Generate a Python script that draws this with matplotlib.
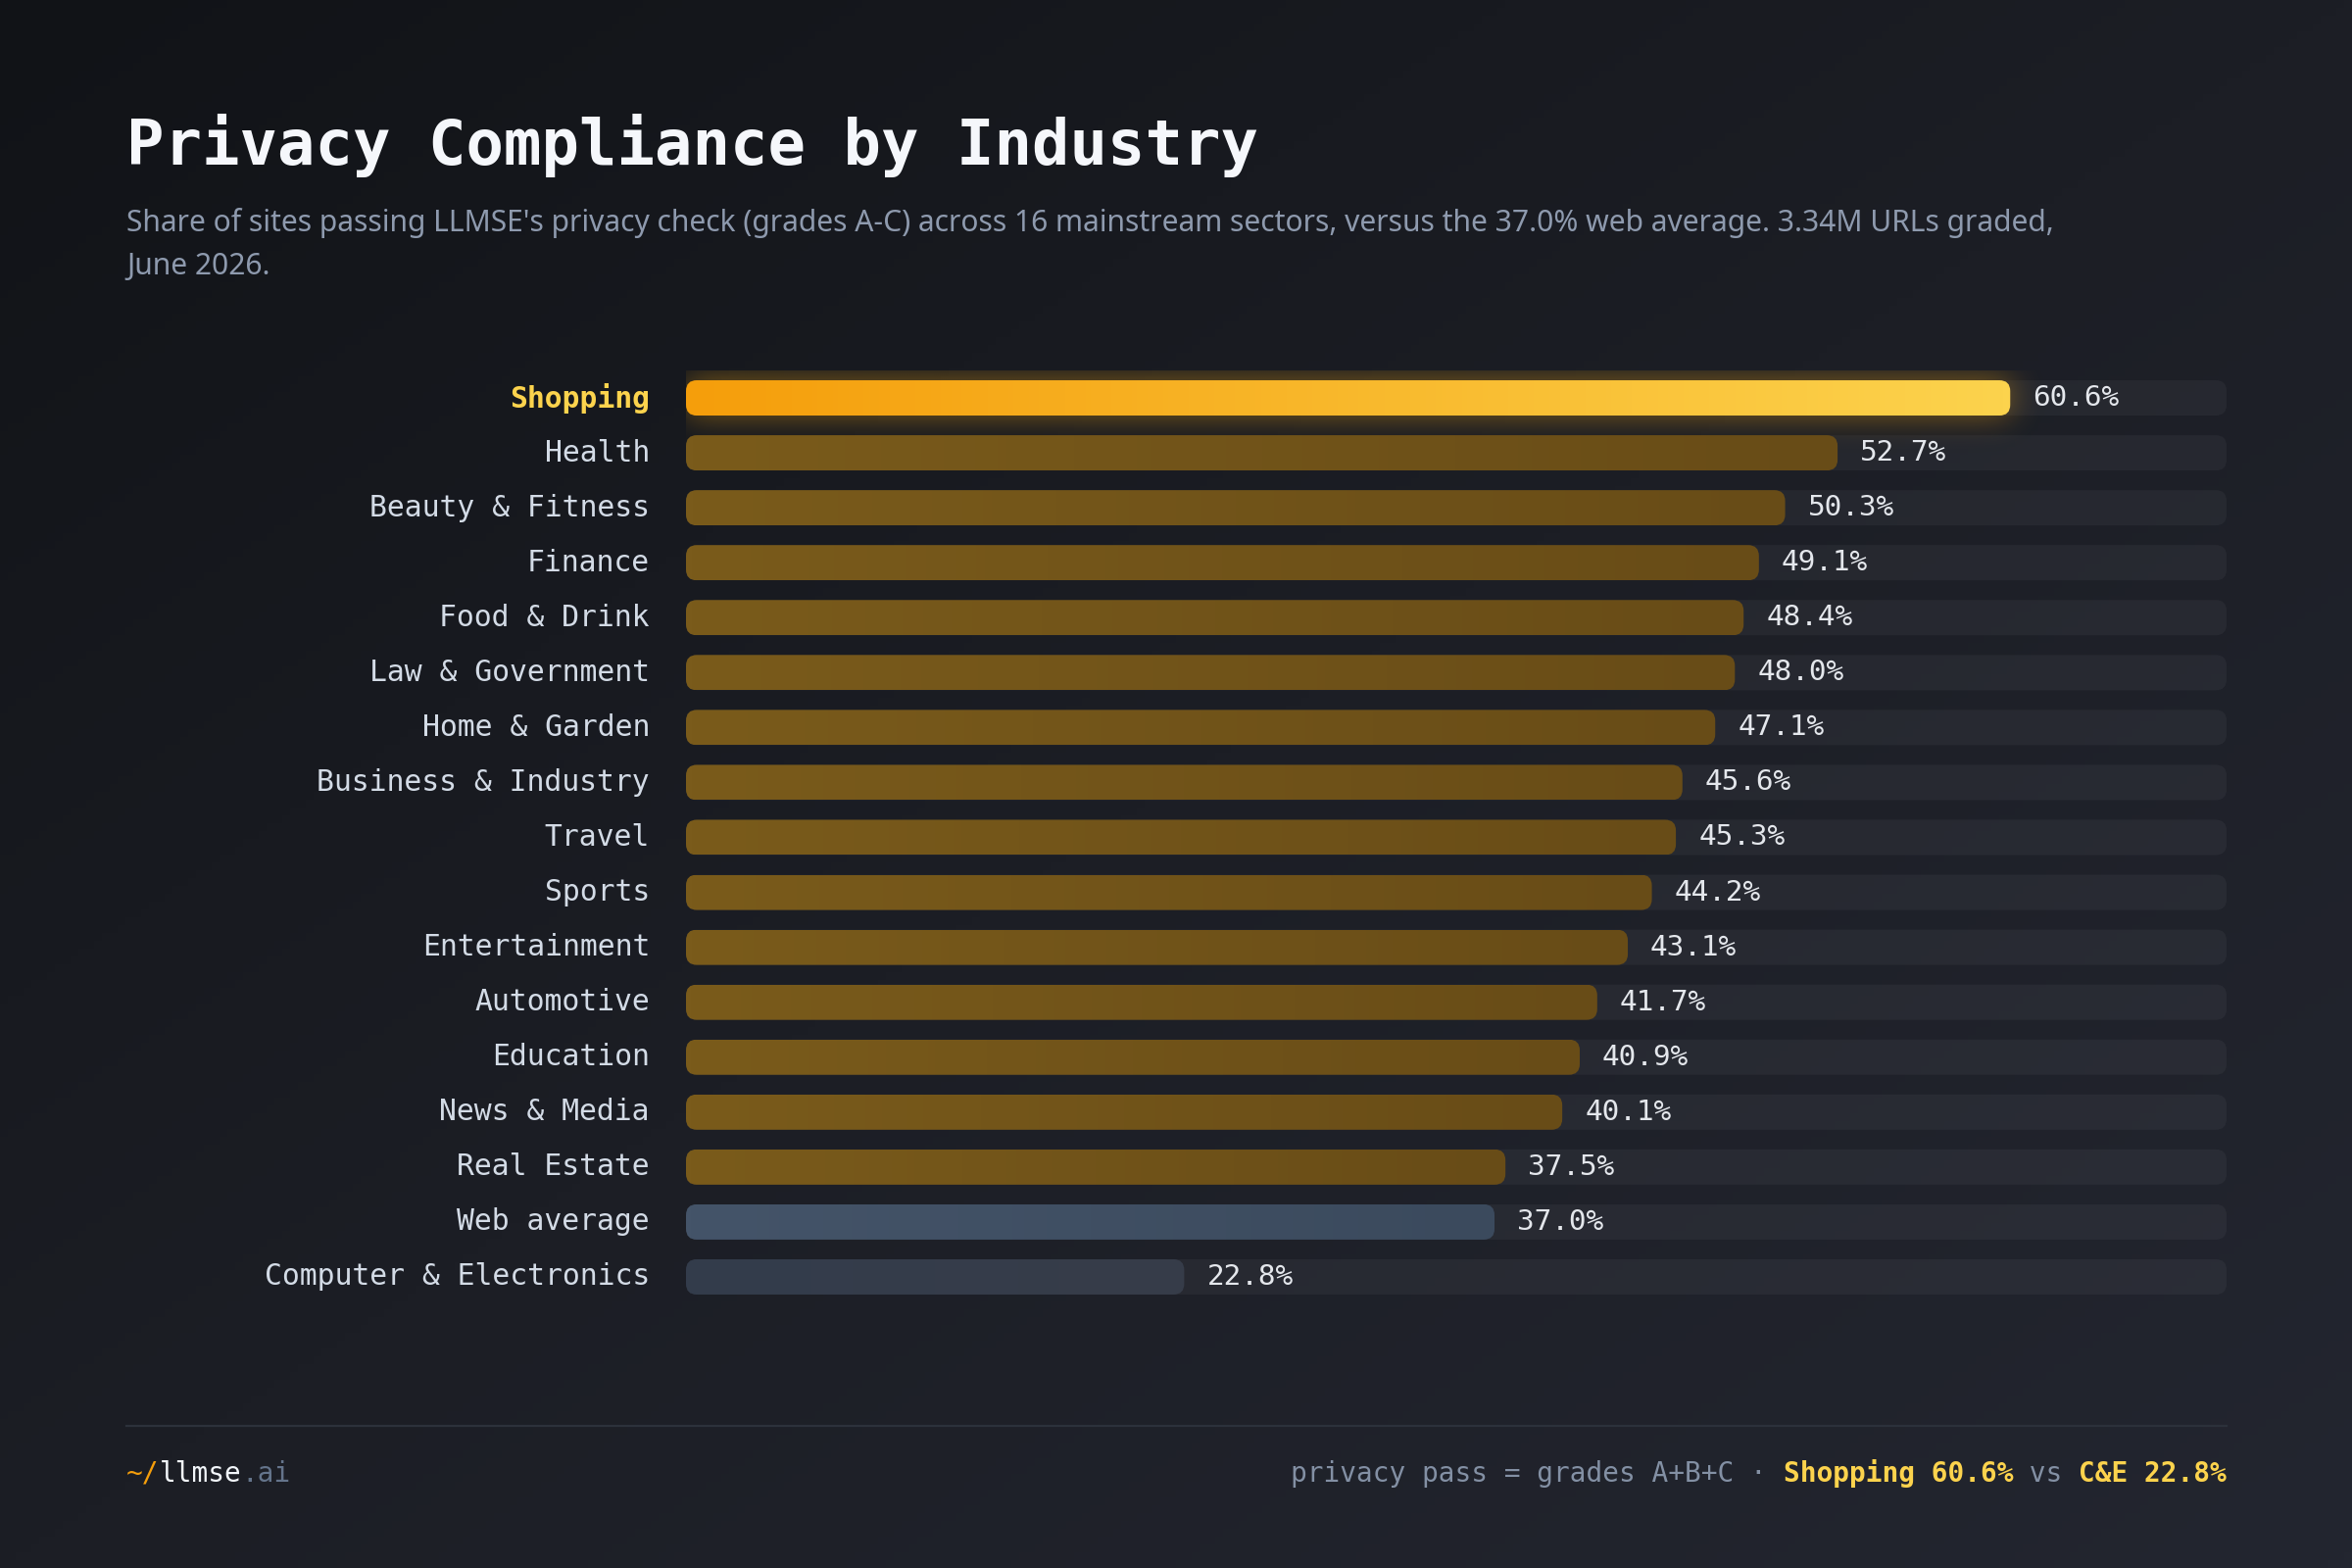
import math

import matplotlib
matplotlib.use("Agg")
import matplotlib.pyplot as plt
import numpy as np
from matplotlib.colors import LinearSegmentedColormap, to_rgb
from matplotlib.patches import FancyBboxPatch

# data
categories = [
    "Shopping", "Health", "Beauty & Fitness", "Finance", "Food & Drink",
    "Law & Government", "Home & Garden", "Business & Industry", "Travel",
    "Sports", "Entertainment", "Automotive", "Education", "News & Media",
    "Real Estate", "Web average", "Computer & Electronics",
]
values = [60.6, 52.7, 50.3, 49.1, 48.4, 48.0, 47.1, 45.6, 45.3, 44.2,
          43.1, 41.7, 40.9, 40.1, 37.5, 37.0, 22.8]
kinds = ["top"] + ["sector"] * 14 + ["avg", "low"]

title = "Privacy Compliance by Industry"
subtitle_lines = [
    "Share of sites passing LLMSE's privacy check (grades A-C) across 16 mainstream "
    "sectors, versus the 37.0% web average. 3.34M URLs graded,",
    "June 2026.",
]
footer_left = [("~/", "#f59e0b", "normal"), ("llmse", "#f1f5f9", "normal"), (".ai", "#64748b", "normal")]
footer_right = [("privacy pass = grades A+B+C · ", "#8390a4", "normal"),
                ("Shopping 60.6%", "#fcd34d", "bold"),
                (" vs ", "#8390a4", "normal"),
                ("C&E 22.8%", "#fcd34d", "bold")]

W, H, DPI = 2400, 1600, 200
MONO = "DejaVu Sans Mono"
SANS = ["Noto Sans", "DejaVu Sans"]

grad_colors = {
    "top": ("#f59e0b", "#fcd34d"),
    "sector": ("#7a5b1b", "#684c17"),
    "avg": ("#445469", "#3b4a5d"),
    "low": ("#333c4c", "#373d49"),
}

fig = plt.figure(figsize=(W / DPI, H / DPI), dpi=DPI)


def fx(px):
    return px / W


def fy(py):
    return 1 - py / H


# background gradient
bg = fig.add_axes([0, 0, 1, 1], zorder=-10)
gx, gy = np.meshgrid(np.linspace(0, 1, 300), np.linspace(0, 1, 200))
bg.imshow(0.5 * gx + 0.5 * gy, cmap=LinearSegmentedColormap.from_list("bg", ["#111317", "#1c1e25", "#232630"]),
          extent=(0, 1, 1, 0), aspect="auto")
bg.set_xlim(0, 1)
bg.set_ylim(1, 0)
bg.axis("off")

# bars axes
left_px, right_px = 700, 2272
top_px, bot_px = 378, 1331
xmax = 70.5
n = len(categories)
ax = fig.add_axes([fx(left_px), fy(bot_px), fx(right_px - left_px), (bot_px - top_px) / H])

px_per_x = (right_px - left_px) / xmax
px_per_y = (bot_px - top_px) / n
aspect = (1 / px_per_y) / (1 / px_per_x)
bar_h = 36 / px_per_y
radius = 11 / px_per_x

erf = np.frompyfunc(math.erf, 1, 1)


def rounded(x0, y0, w, h, **kw):
    return FancyBboxPatch((x0, y0), w, h,
                          boxstyle=f"round,pad=0,rounding_size={radius}",
                          mutation_aspect=aspect, **kw)


def glow(val, yc, color, sigma=16.0, strength=0.5):
    # gaussian-blurred copy of the bar, like a css box-shadow
    ext = 4 * sigma
    wpx = val * px_per_x
    hpx = bar_h * px_per_y
    xs = np.arange(-ext, wpx + ext, 2.0)
    ys = np.arange(-hpx / 2 - ext, hpx / 2 + ext, 2.0)
    k = math.sqrt(2) * sigma
    fxs = 0.5 * (erf(xs / k) - erf((xs - wpx) / k)).astype(float)
    fys = 0.5 * (erf((ys + hpx / 2) / k) - erf((ys - hpx / 2) / k)).astype(float)
    a = strength * np.outer(fys, fxs)
    rgba = np.zeros(a.shape + (4,))
    rgba[..., :3] = to_rgb(color)
    rgba[..., 3] = a
    ax.imshow(rgba, extent=(xs[0] / px_per_x, xs[-1] / px_per_x,
                            yc + ys[-1] / px_per_y, yc + ys[0] / px_per_y),
              aspect="auto", zorder=2, interpolation="bilinear")


for i, (cat, val, kind) in enumerate(zip(categories, values, kinds)):
    y0 = i - bar_h / 2
    # track
    ax.add_patch(rounded(0, y0, xmax, bar_h, facecolor="#ffffff", alpha=0.045,
                         edgecolor="none", zorder=1))
    if kind == "top":
        glow(val, i, "#f5a70f")
    patch = rounded(0, y0, val, bar_h, facecolor="none", edgecolor="none", zorder=3)
    ax.add_patch(patch)
    cmap = LinearSegmentedColormap.from_list(f"g{i}", grad_colors[kind])
    im = ax.imshow(np.linspace(0, 1, 256).reshape(1, -1), cmap=cmap, aspect="auto",
                   extent=(0, val, i + bar_h / 2, i - bar_h / 2), zorder=3, interpolation="bilinear")
    im.set_clip_path(patch)

    lab_color = "#fcd34d" if kind == "top" else "#d3dbe6"
    ax.annotate(cat, xy=(0, i), xytext=(-37, 0), textcoords="offset pixels",
                ha="right", va="center", fontsize=10.7, family=MONO,
                color=lab_color, fontweight="bold" if kind == "top" else "normal")
    ax.annotate(f"{val:.1f}%", xy=(val, i), xytext=(23, 0), textcoords="offset pixels",
                ha="left", va="center", fontsize=10.6, family=MONO, color="#e4e7ec")

ax.set_xlim(0, xmax)
ax.set_ylim(n - 0.5, -0.5)
ax.axis("off")

# titles
fig.text(fx(129), fy(168), title, fontsize=23, fontweight="bold", family=MONO,
         color="#f5f7fb", va="baseline", ha="left")
for k, line in enumerate(subtitle_lines):
    fig.text(fx(129), fy(236 + 44 * k), line, fontsize=10.8, family=SANS, color="#8e9aae",
             va="baseline", ha="left")

# footer rule
fig.add_artist(plt.Line2D([fx(129), fx(2272)], [fy(1455), fy(1455)], color="#2c313b", lw=0.8))

# footer text, placed by character width (monospace)
fs_foot = 10
probe = fig.text(0, 0, "0" * 20, fontsize=fs_foot, family=MONO)
fig.canvas.draw()
cw = probe.get_window_extent().width / 20
probe.remove()

x = 129
for seg, col, wt in footer_left:
    fig.text(fx(x), fy(1512), seg, fontsize=fs_foot, family=MONO, color=col,
             fontweight=wt, va="baseline", ha="left")
    x += len(seg) * cw

total = sum(len(s) for s, _, _ in footer_right)
x = 2272 - total * cw
for seg, col, wt in footer_right:
    fig.text(fx(x), fy(1512), seg, fontsize=fs_foot, family=MONO, color=col,
             fontweight=wt, va="baseline", ha="left")
    x += len(seg) * cw

fig.savefig("out.png", dpi=DPI)
